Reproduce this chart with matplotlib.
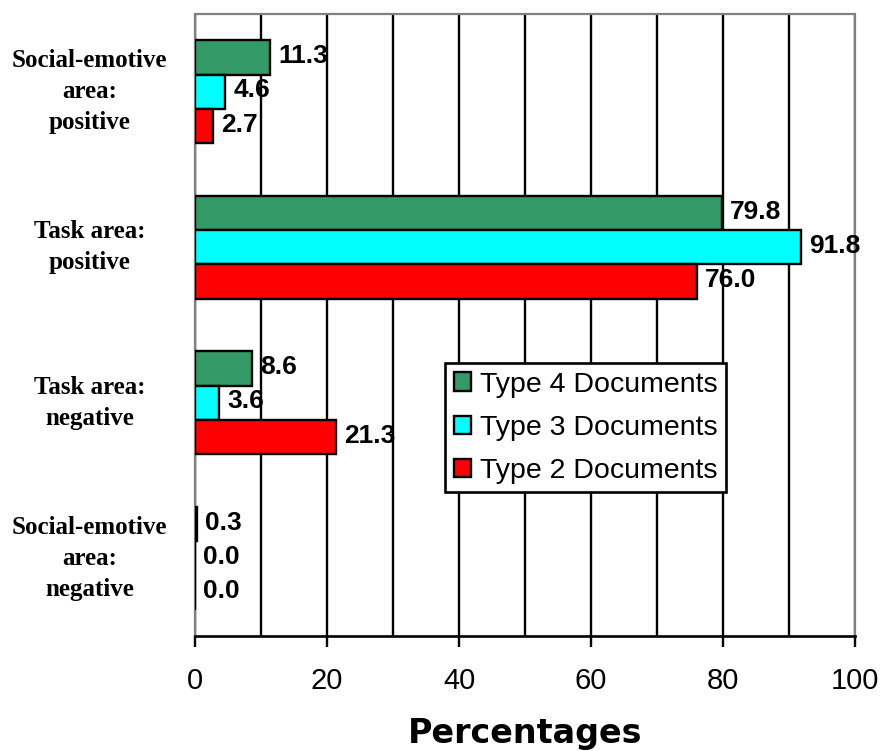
import numpy as np
import matplotlib.pyplot as plt
from matplotlib.patches import Patch

# Categories, listed top to bottom
categories = [
    "Social-emotive\narea:\npositive",
    "Task area:\npositive",
    "Task area:\nnegative",
    "Social-emotive\narea:\nnegative",
]

# Percentages per document type
type4 = [11.3, 79.8, 8.6, 0.3]
type3 = [4.6, 91.8, 3.6, 0.0]
type2 = [2.7, 76.0, 21.3, 0.0]

series = [
    ("Type 4 Documents", type4, "#339966"),
    ("Type 3 Documents", type3, "#00ffff"),
    ("Type 2 Documents", type2, "#ff0000"),
]

fig = plt.figure(figsize=(8.85, 7.51), dpi=100)
ax = fig.add_axes([195 / 885, 1 - 636 / 751, 660 / 885, 622 / 751])

centers = np.arange(len(categories)) + 0.5
bar_h = 0.22

for i, (name, vals, color) in enumerate(series):
    ypos = centers + (i - 1) * bar_h
    ax.barh(ypos, vals, height=bar_h, color=color, edgecolor="black",
            linewidth=1.7, zorder=3, label=name)
    for y, v in zip(ypos, vals):
        ax.annotate(f"{v:.1f}", (v, y), xytext=(6, 1), textcoords="offset points",
                    ha="left", va="center", fontsize=19, fontweight="bold",
                    family="Liberation Sans", zorder=5)

ax.set_xlim(0, 100)
ax.set_ylim(4, 0)

# axis styling
ax.set_xticks(np.arange(0, 101, 20))
ax.set_xticks(np.arange(0, 101, 10), minor=True)
ax.tick_params(axis="x", which="major", length=8, width=1.7, direction="out",
               labelsize=21, pad=14)
ax.tick_params(axis="x", which="minor", length=0)
for lbl in ax.get_xticklabels():
    lbl.set_family("Liberation Sans")
ax.set_yticks([])
ax.grid(axis="x", which="both", color="black", linewidth=1.7, zorder=1)
ax.set_axisbelow(True)

ax.spines["bottom"].set_linewidth(1.9)
for side in ["left", "top", "right"]:
    ax.spines[side].set_color("#808080")
    ax.spines[side].set_linewidth(1.6)
    ax.spines[side].set_linestyle((0, (1, 1)))

ax.set_xlabel("Percentages", fontsize=24, fontweight="bold",
              family="DejaVu Sans", labelpad=16)

# category labels, centred in a column to the left of the plot
for y, text in zip(centers, categories):
    ax.text(-0.16, y, text, transform=ax.get_yaxis_transform(),
            ha="center", va="center", fontsize=18, fontweight="bold",
            family="Liberation Serif", linespacing=1.45)

handles = [Patch(facecolor=c, edgecolor="black", linewidth=1.7, label=n)
           for n, _, c in series]
leg = ax.legend(handles=handles, loc="upper left",
                bbox_to_anchor=(445 / 885, 1 - 363 / 751),
                bbox_transform=fig.transFigure, borderaxespad=0,
                fancybox=False, framealpha=1, edgecolor="black",
                prop={"family": "Liberation Sans", "size": 20.5},
                handlelength=0.6, handleheight=0.6, handletextpad=0.32,
                labelspacing=0.6, borderpad=0.3)
leg.get_frame().set_linewidth(1.9)
leg.set_zorder(6)

fig.savefig("out.png", dpi=100)
